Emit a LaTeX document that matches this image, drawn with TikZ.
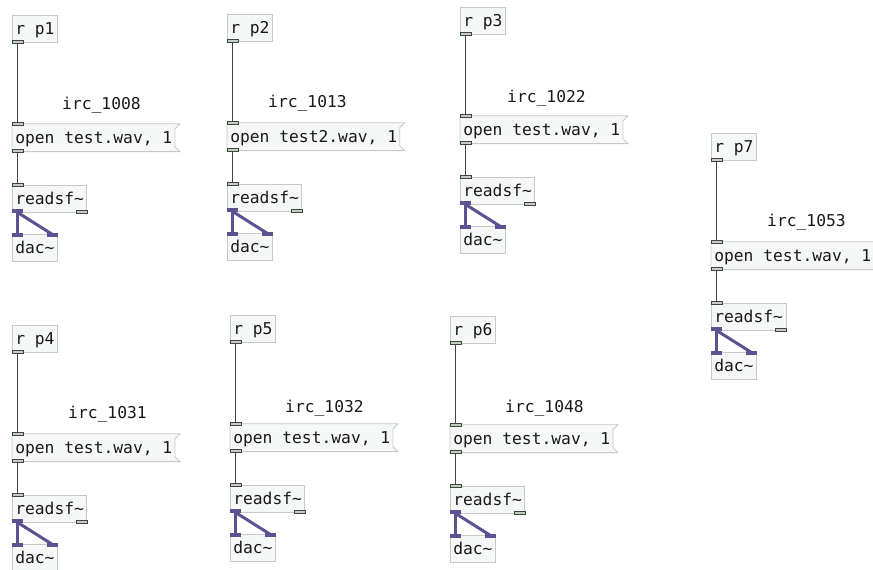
\documentclass[tikz,border=0pt]{standalone}
\usepackage{fontspec}
\newfontfamily\pdmono{DejaVu Sans Mono}
\usetikzlibrary{positioning,backgrounds}
\definecolor{boxfill}{RGB}{246,248,248}
\definecolor{boxline}{RGB}{200,200,200}
\definecolor{cordgray}{RGB}{60,72,60}
\definecolor{portfill}{RGB}{196,205,196}
\definecolor{sigpurple}{RGB}{90,82,145}

\begin{document}
\begin{tikzpicture}[
    x=1pt, y=-1pt,
    every node/.style={font=\pdmono\fontsize{16.3}{18}\selectfont, text=black!90},
    obj/.style={draw=boxline, fill=boxfill, line width=0.8pt, anchor=north west,
                inner xsep=2.9pt, inner ysep=0pt, minimum height=27pt,
                text height=13pt, text depth=2pt},
    msgbox/.style={obj, draw=none, fill=none},
    msgline/.style={draw=boxline, fill=boxfill, line width=0.8pt},
    ctlport/.style={draw=cordgray, fill=portfill, line width=0.8pt},
    sigport/.style={fill=sigpurple},
    ctlcord/.style={draw=cordgray, line width=1.6pt},
    sigcord/.style={draw=sigpurple, line width=3pt},
    comment/.style={anchor=west, inner sep=0pt}
  ]
  \useasboundingbox (0,0) rectangle (873,570);
  \clip (0,0) rectangle (873,570);

  % one [r pN] -> [open ...( -> [readsf~] -> [dac~] chain per receive
  \foreach \i/\x/\y/\lx/\ly/\irc/\file in {
      1/12/15/62/105/1008/test.wav,
      2/227/14/268/103/1013/test2.wav,
      3/460/7/507/98/1022/test.wav,
      4/12/325/68/414/1031/test.wav,
      5/230/315/285/408/1032/test.wav,
      6/450/316/505/408/1048/test.wav,
      7/711/133/767/222/1053/test.wav}
  {
    \node[obj] (r\i) at (\x,\y) {r p\i};
    \node[comment] (c\i) at (\lx,\ly) {irc\_\irc};
    \node[msgbox, below right=81pt and 0pt of r\i.south west] (m\i) {open \file, 1};
    \node[obj, below right=33pt and 0pt of m\i.south west] (s\i) {readsf\char`\~};
    \node[obj, below right=22pt and 0pt of s\i.south west] (d\i) {dac\char`\~};

    % message box with the flag notch
    \scoped[on background layer]
      \path[msgline] (m\i.north west) -- ([xshift=4.3pt]m\i.north east)
        -- ([xshift=-0.7pt,yshift=-5pt]m\i.north east)
        -- ([xshift=-0.7pt,yshift=5pt]m\i.south east)
        -- ([xshift=4.3pt]m\i.south east) -- (m\i.south west) -- cycle;

    % cords
    \draw[ctlcord] ([xshift=5.5pt]r\i.south west) -- ([xshift=5.5pt]m\i.north west);
    \draw[ctlcord] ([xshift=5.5pt]m\i.south west) -- ([xshift=5.5pt]s\i.north west);
    \draw[sigcord] ([xshift=5.5pt]s\i.south west) -- ([xshift=5.5pt]d\i.north west);
    \draw[sigcord] ([xshift=5.5pt]s\i.south west) -- ([xshift=-5.5pt]d\i.north east);

    % inlets and outlets
    \path[ctlport] ([yshift=-1pt]r\i.south west) rectangle ++(11pt,3pt);
    \path[ctlport] ([yshift=1pt]m\i.north west) rectangle ++(11pt,-3pt);
    \path[ctlport] ([yshift=-1pt]m\i.south west) rectangle ++(11pt,3pt);
    \path[ctlport] ([yshift=1pt]s\i.north west) rectangle ++(11pt,-3pt);
    \path[sigport] ([yshift=-1pt]s\i.south west) rectangle ++(11pt,4pt);
    \path[ctlport] ([xshift=-11pt,yshift=-1pt]s\i.south east) rectangle ++(11pt,3pt);
    \path[sigport] ([yshift=1pt]d\i.north west) rectangle ++(11pt,-4pt);
    \path[sigport] ([xshift=-11pt,yshift=1pt]d\i.north east) rectangle ++(11pt,-4pt);
  }
\end{tikzpicture}
\end{document}
